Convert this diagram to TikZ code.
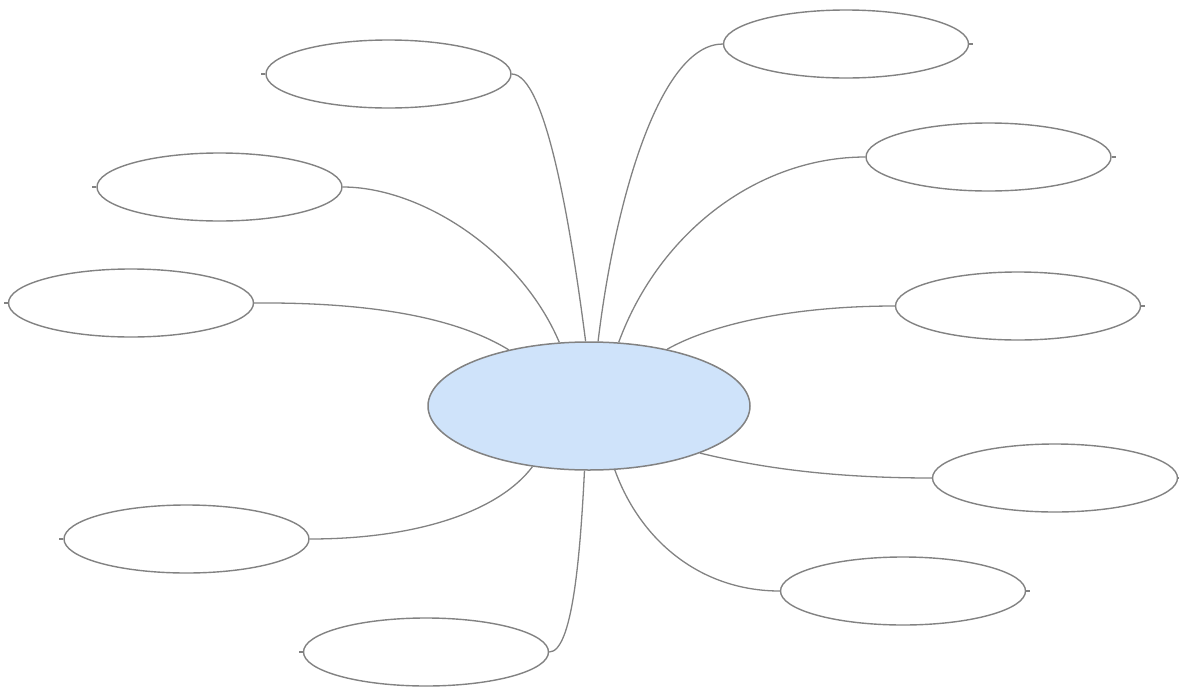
\documentclass[tikz,border=0pt]{standalone}
\usetikzlibrary{shapes.geometric}
\definecolor{linegray}{RGB}{130,130,130}
\definecolor{centerfill}{RGB}{207,227,250}
\begin{document}
\begin{tikzpicture}[x=1pt,y=-1pt,
  leaf/.style={ellipse,draw=linegray,line width=1.4pt,minimum width=245pt,minimum height=68pt,inner sep=0pt,fill=white},
  hub/.style={ellipse,draw=linegray,line width=1.5pt,minimum width=322pt,minimum height=128pt,inner sep=0pt,fill=centerfill},
  conn/.style={draw=linegray,line width=1.3pt},
  tick/.style={draw=linegray,line width=1.3pt}]
\useasboundingbox (0,0) rectangle (1179,686);
\node[hub] (c) at (589,406) {};
\node[leaf] (l1) at (388.5,74) {};
\node[leaf] (l2) at (219.5,187) {};
\node[leaf] (l3) at (131,303) {};
\node[leaf] (l4) at (186.5,539) {};
\node[leaf] (l5) at (426,652) {};
\node[leaf] (r1) at (846,44) {};
\node[leaf] (r2) at (988.5,157) {};
\node[leaf] (r3) at (1018,306) {};
\node[leaf] (r4) at (1055,478) {};
\node[leaf] (r5) at (903,591) {};
% connectors
\draw[conn] (l1.east) .. controls (545,74) and (570,220) .. (c.93.6);
\draw[conn] (l2.east) .. controls (420,187) and (520,250) .. (c.115.8);
\draw[conn] (l3.east) .. controls (380,302) and (460,320) .. (c.145.5);
\draw[conn] (l4.east) .. controls (420,539) and (500,510) .. (c.227.4);
\draw[conn] (l5.east) .. controls (572,652) and (580,560) .. (c.266.4);
\draw[conn] (r1.west) .. controls (660,44) and (615,200) .. (c.82);
\draw[conn] (r2.west) .. controls (760,157) and (660,230) .. (c.65.6);
\draw[conn] (r3.west) .. controls (790,306) and (710,325) .. (c.36.8);
\draw[conn] (r4.west) .. controls (820,478) and (750,465) .. (c.337.6);
\draw[conn] (r5.west) .. controls (700,591) and (640,540) .. (c.292.8);
% small ticks at outer ends
\foreach \n in {l1,l2,l3,l4,l5} \draw[tick] (\n.west) -- ++(-4,0);
\foreach \n in {r1,r2,r3,r4,r5} \draw[tick] (\n.east) -- ++(4,0);
\end{tikzpicture}
\end{document}
